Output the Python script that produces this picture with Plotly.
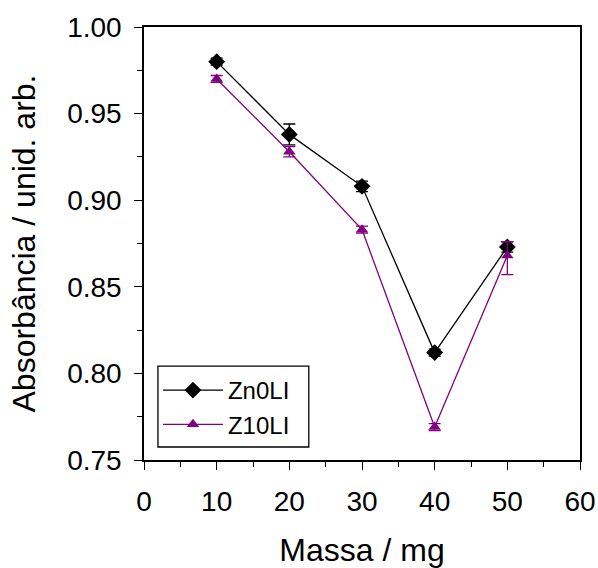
import plotly.graph_objects as go

# Mass of adsorbent (mg) and measured absorbance
massa = [10, 20, 30, 40, 50]

zn0li = [0.980, 0.938, 0.908, 0.812, 0.873]
zn0li_err = [0.002, 0.006, 0.003, 0.002, 0.003]

z10li = [0.970, 0.928, 0.883, 0.769, 0.868]
z10li_err_plus = [0.002, 0.003, 0.002, 0.002, 0.008]
z10li_err_minus = [0.002, 0.003, 0.002, 0.002, 0.011]

FONT = "Liberation Sans, Arial, sans-serif"
PURPLE = "#800080"

fig = go.Figure()

fig.add_trace(go.Scatter(
    x=massa, y=zn0li, name="Zn0LI", mode="lines+markers",
    line=dict(color="black", width=1.3),
    marker=dict(symbol="diamond", size=13, color="black"),
    error_y=dict(type="data", array=zn0li_err, color="black", thickness=1.3, width=6),
))

fig.add_trace(go.Scatter(
    x=massa, y=z10li, name="Z10LI", mode="lines+markers",
    line=dict(color=PURPLE, width=1.3),
    marker=dict(symbol="triangle-up", size=11, color=PURPLE),
    error_y=dict(type="data", symmetric=False, array=z10li_err_plus,
                 arrayminus=z10li_err_minus, color=PURPLE, thickness=1.3, width=6),
))

axis_common = dict(
    showline=True, linecolor="black", linewidth=1.5, mirror=True,
    ticks="outside", tickcolor="black", tickwidth=1.3, ticklen=8,
    showgrid=False, zeroline=False, automargin=False,
    tickfont=dict(family=FONT, size=28, color="black"),
)

fig.update_xaxes(
    range=[0, 60], tick0=0, dtick=10, ticklabelstandoff=8,
    minor=dict(ticks="outside", dtick=5, ticklen=5, tickcolor="black", tickwidth=1.3),
    title=dict(text="Massa / mg", font=dict(family=FONT, size=32, color="black"), standoff=24),
    **axis_common,
)
fig.update_yaxes(
    range=[0.75, 1.00], tick0=0.75, dtick=0.05, tickformat=".2f", ticklabelstandoff=7,
    minor=dict(ticks="outside", dtick=0.025, ticklen=5, tickcolor="black", tickwidth=1.3),
    title=dict(text="Absorbância / unid. arb.", font=dict(family=FONT, size=32, color="black"), standoff=22),
    **axis_common,
)

# Framed legend box
fig.add_shape(
    type="rect", xref="paper", yref="paper",
    x0=0.032, x1=0.378, y0=0.030, y1=0.217,
    line=dict(color="black", width=1.3), fillcolor="white", layer="above",
)

fig.update_layout(
    width=598, height=568,
    margin=dict(l=144, r=18, t=27, b=108),
    paper_bgcolor="white", plot_bgcolor="white",
    showlegend=True,
    legend=dict(
        x=0.032, y=0.2125, xanchor="left", yanchor="top",
        bgcolor="rgba(0,0,0,0)", borderwidth=0,
        font=dict(family=FONT, size=24, color="black"),
        itemwidth=60, tracegroupgap=0,
    ),
)

fig.write_html("out.html")
